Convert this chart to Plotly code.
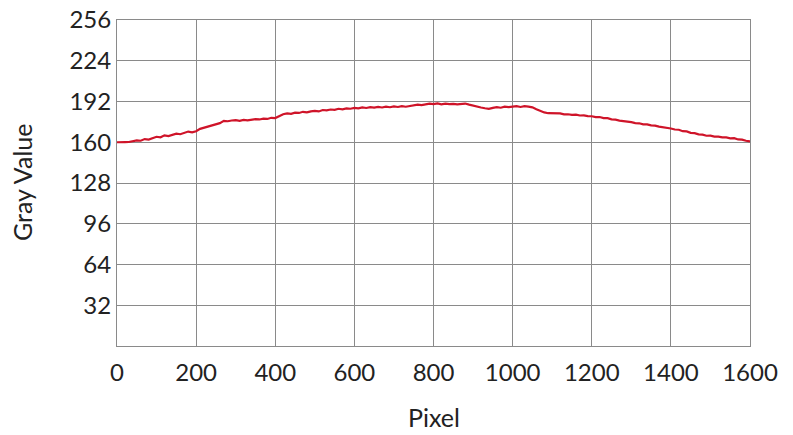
import plotly.graph_objects as go

pixel = list(range(0, 1601, 10))
gray = [
    160.0, 159.8, 160.1, 160.2, 160.8, 161.5, 161.2, 162.5, 162.1, 163.2,
    164.3, 163.9, 165.4, 164.9, 166.0, 166.8, 166.3, 167.4, 168.4, 167.8,
    168.6, 170.5, 171.5, 171.9, 173.0, 174.2, 175.0, 176.8, 176.5, 177.1,
    177.3, 176.8, 177.6, 177.2, 177.8, 178.2, 177.9, 178.5, 178.3, 179.2,
    179.0, 180.4, 182.0, 182.6, 182.3, 183.2, 183.0, 183.9, 183.5, 184.3,
    184.6, 184.2, 185.3, 185.0, 185.7, 185.4, 186.3, 185.9, 186.6, 186.3,
    187.0, 186.6, 187.4, 186.9, 187.6, 187.2, 187.7, 187.3, 187.9, 187.5,
    188.1, 187.7, 188.4, 187.9, 188.3, 189.2, 189.6, 189.2, 189.9, 190.3,
    190.0, 190.5, 189.8, 190.3, 189.9, 190.2, 189.7, 190.1, 190.4, 189.5,
    188.6, 187.8, 187.3, 186.7, 186.2, 187.0, 187.5, 187.1, 187.9, 187.6,
    188.0, 188.3, 187.7, 188.4, 188.0, 187.4, 185.9, 184.4, 183.4, 182.8,
    182.8, 182.3, 182.6, 181.9, 182.0, 181.5, 181.7, 181.0, 181.1, 180.5,
    180.4, 179.7, 179.8, 178.9, 178.9, 178.0, 177.8, 177.0, 176.7, 175.9,
    175.8, 175.0, 174.9, 174.1, 174.0, 173.2, 173.1, 172.3, 171.9, 171.1,
    170.8, 170.0, 169.8, 168.7, 168.5, 167.4, 167.1, 166.2, 166.0, 165.1,
    165.2, 164.4, 164.4, 163.8, 163.8, 163.1, 163.2, 162.2, 162.0, 161.2,
    160.6,
]
x_ticks = [0, 200, 400, 600, 800, 1000, 1200, 1400, 1600]
y_ticks = [32, 64, 96, 128, 160, 192, 224, 256]

fig = go.Figure()
fig.add_trace(go.Scatter(x=pixel, y=gray, mode="lines",
                         line=dict(color="#cf1429", width=2.2), showlegend=False))

tick_font = dict(family="Lato, 'DejaVu Sans', sans-serif", size=24, color="#222")
title_font = dict(family="Lato, 'DejaVu Sans', sans-serif", size=25, color="#222")
fig.update_layout(
    width=793, height=435,
    margin=dict(l=117, r=43, t=20, b=89, autoexpand=False),
    paper_bgcolor="white", plot_bgcolor="white",
    font=tick_font,
)
fig.update_xaxes(range=[0, 1600], tickvals=x_ticks, ticktext=[str(v) for v in x_ticks],
                 tickfont=tick_font, ticklabeloverflow="allow", automargin=False,
                 showgrid=True, gridcolor="#8a8a8a", gridwidth=1,
                 showline=True, linecolor="#8a8a8a", linewidth=1, mirror=True,
                 zeroline=False, ticks="outside", ticklen=5, tickcolor="rgba(0,0,0,0)")
fig.update_yaxes(range=[0, 256], tickvals=y_ticks, ticktext=[str(v) for v in y_ticks],
                 tickfont=tick_font, ticklabeloverflow="allow", automargin=False,
                 showgrid=True, gridcolor="#8a8a8a", gridwidth=1,
                 showline=True, linecolor="#8a8a8a", linewidth=1, mirror=True,
                 zeroline=False, ticks="", ticklen=0)

fig.add_annotation(text="Pixel", xref="paper", yref="paper", x=0.5, y=0,
                   xanchor="center", yanchor="middle", yshift=-71,
                   showarrow=False, font=title_font)
fig.add_annotation(text="Gray Value", xref="paper", yref="paper", x=0, y=0.5,
                   xanchor="center", yanchor="middle", xshift=-95, textangle=-90,
                   showarrow=False, font=title_font)

fig.write_html("out.html", config={"displayModeBar": False},
               post_script="document.body.style.margin='0';document.body.style.padding='0';")
